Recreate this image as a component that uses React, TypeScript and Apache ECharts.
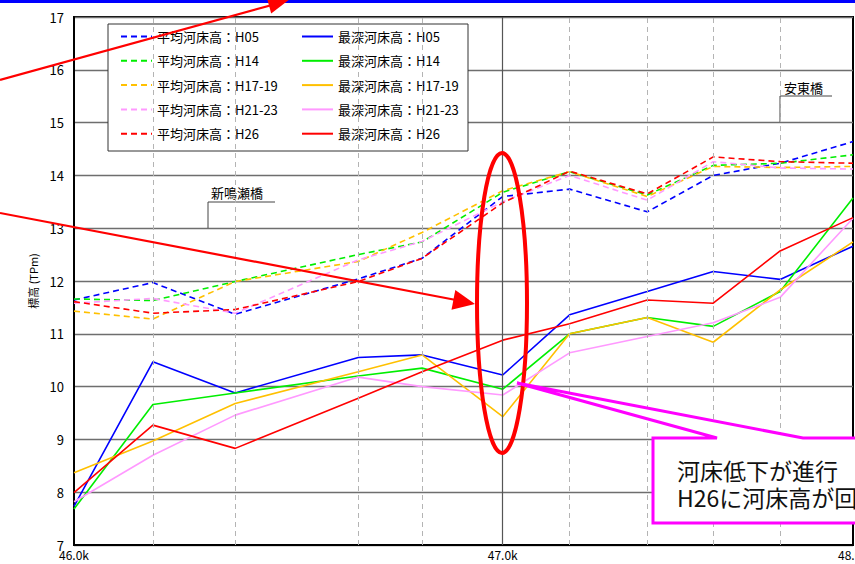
import React, { useEffect, useRef } from "react";
import * as echarts from "echarts";

// Cumulative distance (m) of each cross-section from the 46.0k post
const sectionDist = [0, 184, 376, 663, 812, 1000, 1156, 1337, 1491, 1647, 1817];
// Kilometre posts shown on the x axis
const kmPostDist = [0, 1000, 1817];
const kmPostLabels = ["46.0k", "47.0k", "48.0k"];

// 平均河床高 (mean bed elevation, TPm)
const avgH05 = [11.64, 11.97, 11.37, 12.04, 12.43, 13.6, 13.74, 13.31, 14.0, 14.23, 14.64];
const avgH14 = [11.66, 11.63, 11.99, 12.5, 12.74, 13.68, 14.07, 13.63, 14.19, 14.23, 14.39];
const avgH1719 = [11.43, 11.28, 11.99, 12.37, 12.92, 13.71, 14.07, 13.6, 14.17, 14.15, 14.17];
const avgH2123 = [11.58, 11.67, 11.39, 12.4, 12.75, 13.5, 14.0, 13.53, 14.26, 14.14, 14.12];
const avgH26 = [11.61, 11.39, 11.46, 11.99, 12.43, 13.48, 14.08, 13.65, 14.35, 14.26, 14.23];

// 最深河床高 (deepest bed elevation, TPm)
const maxH05 = [7.73, 10.47, 9.88, 10.55, 10.6, 10.22, 11.36, 11.8, 12.18, 12.03, 12.66];
const maxH14 = [7.68, 9.66, 9.88, 10.2, 10.35, 9.95, 11.0, 11.31, 11.14, 11.8, 13.57];
const maxH1719 = [8.37, 8.97, 9.68, 10.28, 10.6, 9.43, 11.0, 11.31, 10.84, 11.83, 12.74];
const maxH2123 = [7.82, 8.7, 9.46, 10.18, 10.0, 9.84, 10.64, 10.95, 11.21, 11.69, 13.19];
const maxH26 = [7.99, 9.27, 8.83, 9.78, 10.28, 10.88, 11.19, 11.64, 11.58, 12.57, 13.2];

const surveyYears = ["H05", "H14", "H17-19", "H21-23", "H26"];
const yearColors = ["#0000ff", "#00ee00", "#ffc000", "#ff99ff", "#ff0000"];
const avgSeries = [avgH05, avgH14, avgH1719, avgH2123, avgH26];
const maxSeries = [maxH05, maxH14, maxH1719, maxH2123, maxH26];

const avgNames = surveyYears.map((y) => `平均河床高：${y}`);
const maxNames = surveyYears.map((y) => `最深河床高：${y}`);

const calloutLines = ["河床低下が進行", "H26に河床高が回"];

const FONT = "'Noto Sans CJK JP', 'Noto Sans', sans-serif";

export default function App() {
  const ref = useRef<HTMLDivElement>(null);

  useEffect(() => {
    if (!ref.current) return;
    const chart = echarts.init(ref.current, undefined, { renderer: "svg" });

    const lineSeries: any[] = [];
    avgSeries.forEach((vals, i) => {
      lineSeries.push({
        type: "line",
        name: avgNames[i],
        data: sectionDist.map((d, j) => [d, vals[j]]),
        symbol: "none",
        z: 2,
        itemStyle: { color: yearColors[i] },
        lineStyle: { color: yearColors[i], width: 1.6, type: [6, 4] },
      });
    });
    maxSeries.forEach((vals, i) => {
      lineSeries.push({
        type: "line",
        name: maxNames[i],
        data: sectionDist.map((d, j) => [d, vals[j]]),
        symbol: "none",
        z: 2,
        itemStyle: { color: yearColors[i] },
        lineStyle: { color: yearColors[i], width: 1.6, type: "solid" },
      });
    });

    // vertical section lines
    const sectionLines = {
      type: "line",
      data: [],
      z: 1,
      silent: true,
      markLine: {
        silent: true,
        symbol: "none",
        animation: false,
        label: { show: false },
        data: sectionDist.slice(1, -1).map((d) => ({
          xAxis: d,
          lineStyle:
            d === 1000
              ? { type: "solid", color: "#555", width: 1.2 }
              : { type: [5, 4], color: "#b4b4b4", width: 1 },
        })),
      },
    };

    const legendCommon = {
      orient: "vertical",
      top: 30,
      padding: 0,
      itemWidth: 31,
      itemHeight: 14,
      itemGap: 11.3,
      selectedMode: false,
      itemStyle: { opacity: 0 },
      textStyle: { fontSize: 13, color: "#000", fontFamily: FONT },
    };

    const option: any = {
      animation: false,
      textStyle: { fontFamily: FONT },
      grid: {
        left: 74,
        top: 17,
        right: 2,
        bottom: 19,
        show: true,
        borderColor: "#000",
        borderWidth: 2,
        backgroundColor: "#fff",
        containLabel: false,
        outerBoundsMode: "none",
      },
      xAxis: {
        type: "value",
        min: 0,
        max: 1817,
        axisLine: { show: true, lineStyle: { color: "#000", width: 2 } },
        axisTick: { show: false },
        splitLine: { show: false },
        axisLabel: {
          customValues: kmPostDist,
          formatter: (v: number) => {
            const k = kmPostDist.indexOf(Math.round(v));
            return k >= 0 ? kmPostLabels[k] : "";
          },
          fontSize: 12,
          lineHeight: 13,
          color: "#000",
          margin: 3,
          fontFamily: FONT,
        },
      },
      yAxis: {
        type: "value",
        min: 7,
        max: 17,
        interval: 1,
        name: "標高 (TPm)",
        nameLocation: "middle",
        nameGap: 36,
        nameRotate: 90,
        nameTextStyle: { fontSize: 11, color: "#000", fontFamily: FONT },
        axisLine: { show: true, lineStyle: { color: "#000", width: 2 } },
        axisTick: { show: false },
        splitLine: { show: true, lineStyle: { color: "#6e6e6e", width: 1.3 } },
        axisLabel: { fontSize: 13, color: "#000", margin: 10, fontFamily: FONT },
      },
      legend: [
        { ...legendCommon, left: 120, data: avgNames },
        { ...legendCommon, left: 301, data: maxNames },
      ],
      series: [sectionLines, ...lineSeries],
      graphic: [
        // top rule
        { type: "rect", z: 100, shape: { x: 0, y: 0, width: 855, height: 3 }, style: { fill: "#0000ff" } },
        // legend frame
        {
          type: "rect",
          z: 3,
          shape: { x: 108, y: 24, width: 360, height: 127 },
          style: { fill: "#fff", stroke: "#333", lineWidth: 1 },
        },
        // bridge labels
        {
          type: "polyline",
          z: 3,
          shape: { points: [[208, 228], [208, 202], [275, 202]] },
          style: { stroke: "#444", lineWidth: 1, fill: "none" },
        },
        {
          type: "text",
          z: 3,
          x: 211,
          y: 192,
          style: { text: "新鳴瀬橋", font: `13px ${FONT}`, fill: "#000", verticalAlign: "middle" },
        },
        {
          type: "polyline",
          z: 3,
          shape: { points: [[780, 122], [780, 96], [832, 96]] },
          style: { stroke: "#444", lineWidth: 1, fill: "none" },
        },
        {
          type: "text",
          z: 3,
          x: 784,
          y: 87,
          style: { text: "安東橋", font: `13px ${FONT}`, fill: "#000", verticalAlign: "middle" },
        },
        // red arrows
        {
          type: "line",
          z: 100,
          shape: { x1: 0, y1: 80, x2: 272, y2: 5 },
          style: { stroke: "#ff0000", lineWidth: 2.2 },
        },
        {
          type: "polygon",
          z: 100,
          shape: { points: [[290, -1], [271.2, 13.5], [266.4, -3.9]] },
          style: { fill: "#ff0000" },
        },
        {
          type: "line",
          z: 100,
          shape: { x1: 0, y1: 213, x2: 456, y2: 300 },
          style: { stroke: "#ff0000", lineWidth: 2.2 },
        },
        {
          type: "polygon",
          z: 100,
          shape: { points: [[475, 304], [451.5, 309.7], [455.3, 290.1]] },
          style: { fill: "#ff0000" },
        },
        // highlight ring at 47.0k
        {
          type: "ellipse",
          z: 100,
          shape: { cx: 502, cy: 303, rx: 25, ry: 150 },
          style: { fill: "none", stroke: "#ff0000", lineWidth: 4 },
        },
        // callout
        {
          type: "polygon",
          z: 100,
          shape: {
            points: [
              [653, 438],
              [717, 438],
              [517, 383],
              [803, 438],
              [875, 438],
              [875, 523],
              [653, 523],
            ],
          },
          style: { fill: "#fff", stroke: "#ff00ff", lineWidth: 3 },
        },
        ...calloutLines.map((t, i) => ({
          type: "text",
          z: 101,
          x: 677,
          y: 470 + i * 27,
          style: { text: t, font: `23px ${FONT}`, fill: "#111", verticalAlign: "middle" },
        })),
      ],
    };

    chart.setOption(option);
    return () => chart.dispose();
  }, []);

  return (
    <div
      ref={ref}
      style={{ position: "fixed", left: 0, top: 0, width: 855, height: 564, background: "#fff" }}
    />
  );
}
